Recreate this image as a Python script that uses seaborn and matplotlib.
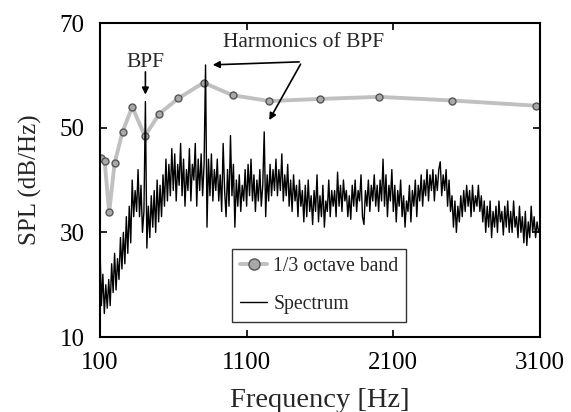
import numpy as np
import pandas as pd
import matplotlib
matplotlib.use("Agg")
import matplotlib.pyplot as plt
import seaborn as sns

# 1/3 octave band levels
band_freq = [105, 132, 163, 200, 254, 320, 406, 506, 634, 807, 1005, 1255, 1600, 2002, 2502, 3075]
band_spl = [44.3, 43.7, 33.8, 43.2, 49.2, 54.0, 48.4, 52.7, 55.6, 58.6, 56.2, 55.1, 55.5, 55.9, 55.2, 54.2]

# Narrow-band spectrum, 10 Hz steps from 100 Hz to 3100 Hz (estimated from the chart)
spec_start, spec_step = 100, 10
spec_spl = [
    28, 16, 22, 14.5, 20, 15.5, 21, 16, 24, 18.5,      # 100
    26, 19, 25, 21, 29, 23, 30, 24, 33, 26,            # 200
    35, 28, 40, 33, 38, 34, 42, 33, 39, 30,            # 300
    34, 55, 27, 35, 29, 37, 31, 38, 30, 40,            # 400
    32, 39, 33, 41, 35, 44, 36, 43, 37, 46,            # 500
    38, 45, 36, 43, 39, 47, 37, 44, 35, 42,            # 600
    38, 46, 36, 43, 40, 47, 35, 44, 38, 45,            # 700
    37, 43, 62, 31, 44, 37, 45, 36, 42, 38,            # 800
    44, 36, 41, 34, 47, 38, 33, 42, 35, 48.5,          # 900
    37, 43, 31, 40, 35, 41, 34, 39, 36, 42,            # 1000
    35, 43, 37, 44, 36, 41, 34, 40, 36, 42,            # 1100
    35, 39, 49.2, 33, 41, 36, 43, 37, 42, 38,          # 1200
    44, 37, 42, 38, 45, 36, 41, 37, 43, 35,            # 1300
    40, 34, 41, 36, 39, 33, 40, 35, 38, 32,            # 1400
    39, 33, 40, 34, 37, 31.5, 38, 34, 41, 32,          # 1500
    37, 33, 39, 31, 36, 34, 40, 33, 38, 35,            # 1600
    38, 33, 41.5, 35, 39, 34, 40, 36, 38, 33,          # 1700
    37, 32.5, 39, 35, 40, 34, 38, 36, 41, 33,          # 1800
    31.5, 38, 35, 40, 34, 39, 36, 41, 35, 39,          # 1900
    34, 40, 36, 44, 35, 41, 33, 39, 36, 42,            # 2000
    34, 39, 32, 38, 35, 40, 33, 37, 31, 36,            # 2100
    34, 39, 32, 38, 35, 40, 33, 39, 36, 41,            # 2200
    35, 40, 37, 42, 36, 41, 38, 42, 36, 41,            # 2300
    38, 42, 43.5, 37, 41, 38, 42, 35, 40, 34,          # 2400
    37, 31, 36, 30, 35, 32, 37, 33, 38, 34,            # 2500
    39, 35, 38, 33, 39, 34, 37, 35, 39, 34,            # 2600
    37, 32, 36, 30, 35, 31, 36, 29, 34, 31,            # 2700
    35, 30, 36, 32, 34, 29.5, 35, 31, 36, 30,          # 2800
    34, 30, 36, 31, 33, 29, 35, 30, 33, 28,            # 2900
    34, 27.5, 32, 29, 35, 30, 33, 29, 32, 30,          # 3000
    31,                                                # 3100
]
spec_freq = spec_start + spec_step * np.arange(len(spec_spl))

x_ticks = [100, 1100, 2100, 3100]
y_ticks = [10, 30, 50, 70]

band_df = pd.DataFrame({"freq": band_freq, "spl": band_spl})
spec_df = pd.DataFrame({"freq": spec_freq, "spl": spec_spl})

sns.set_theme(style="ticks")
plt.rcParams["font.family"] = ["Liberation Serif", "DejaVu Serif"]

fig = plt.figure(figsize=(5.71, 4.12), dpi=100)
ax = fig.add_axes([0.175, 0.182, 0.7707, 0.762])

sns.lineplot(data=band_df, x="freq", y="spl", ax=ax, color="#c0c0c0", lw=2.8,
             marker="o", markersize=5, markerfacecolor="#a8a8a8",
             markeredgecolor="#555555", markeredgewidth=1.0,
             label="1/3 octave band", zorder=2)
sns.lineplot(data=spec_df, x="freq", y="spl", ax=ax, color="black", lw=1.0,
             label="Spectrum", zorder=3)

ax.set_xlim(100, 3100)
ax.set_ylim(10, 70)
ax.set_xticks(x_ticks)
ax.set_yticks(y_ticks)
ax.tick_params(direction="in", top=True, right=True, length=5, width=1.2,
               labelsize=18, pad=11, colors="black")
for s in ax.spines.values():
    s.set_linewidth(1.5)
    s.set_color("black")
ax.set_xlabel("Frequency [Hz]", fontsize=20.5, labelpad=10)
ax.set_ylabel("SPL (dB/Hz)", fontsize=18, labelpad=13)

# annotations
ax.annotate("", xy=(410, 55.8), xytext=(410, 61.2),
            arrowprops=dict(arrowstyle="-|>", color="black", lw=1.2, mutation_scale=10))
ax.text(410, 62.5, "BPF", fontsize=15.5, ha="center", va="center")
ax.text(1490, 66.2, "Harmonics of BPF", fontsize=15.5, ha="center", va="center")
ax.annotate("", xy=(850, 62.0), xytext=(1477, 62.6),
            arrowprops=dict(arrowstyle="-|>", color="black", lw=1.2, mutation_scale=10))
ax.annotate("", xy=(1245, 51.0), xytext=(1477, 62.6),
            arrowprops=dict(arrowstyle="-|>", color="black", lw=1.2, mutation_scale=10))

leg = ax.legend(loc="lower left", bbox_to_anchor=(0.30, 0.048, 0.395, 0.23),
                mode="expand", borderaxespad=0, fontsize=14.2, frameon=True,
                fancybox=False, handlelength=1.4, handletextpad=0.3,
                borderpad=0.4, labelspacing=0.95, markerscale=1.6)
leg.get_frame().set_edgecolor("black")
leg.get_frame().set_linewidth(1.0)

fig.savefig("out.png", dpi=100)
